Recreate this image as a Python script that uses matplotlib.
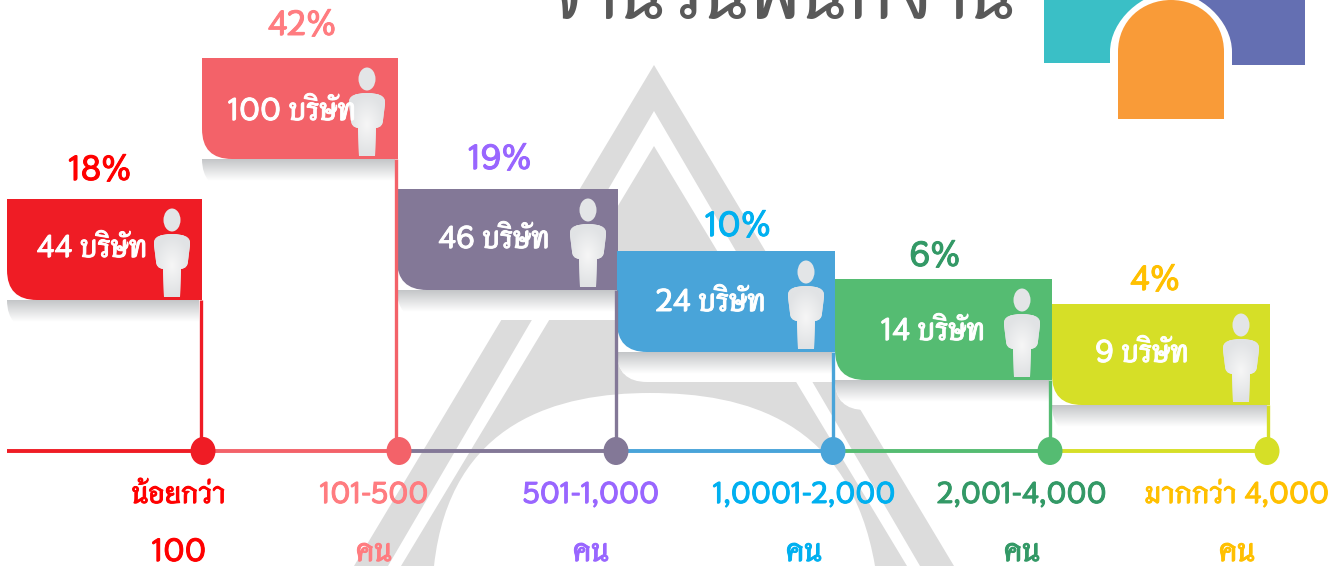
import numpy as np
import matplotlib
matplotlib.use('Agg')
import matplotlib.pyplot as plt
import matplotlib.patheffects as pe
from matplotlib.path import Path
from matplotlib.patches import PathPatch, Ellipse, Rectangle
from matplotlib.colors import LinearSegmentedColormap

plt.rcParams['font.family'] = ['Thasadith', 'Anuphan', 'DejaVu Sans']

## data
shares = ['18%', '42%', '19%', '10%', '6%', '4%']
companies = ['44 บริษัท', '100 บริษัท', '46 บริษัท', '24 บริษัท', '14 บริษัท', '9 บริษัท']
ranges = ['น้อยกว่า', '101-500', '501-1,000', '1,0001-2,000', '2,001-4,000', 'มากกว่า 4,000']
units = ['100', 'คน', 'คน', 'คน', 'คน', 'คน']
title = 'จำนวนพนักงาน'

## layout, in pixels of the picture
box_left = [7, 202, 397, 617, 835, 1052]
box_right = [202, 398, 618, 835, 1052, 1270]
box_top = [199, 58, 189, 251, 279, 304]
dot_x = [203, 399, 616, 833, 1050, 1267]
stem_x = [201, 396, 616, 833, 1050, 1268]
share_xy = [(100, 180), (302, 35), (500, 169), (738, 236), (935, 266), (1155, 290)]
company_xy = [(92, 257), (292, 120), (494, 248), (711, 311), (933, 340), (1142, 362)]
person_x = [172, 367, 588, 806, 1022, 1241]
label_x = [179, 374, 591, 804, 1022, 1237]

box_colors = ['#EF1C25', '#F36269', '#837897', '#49A4D9', '#55BC72', '#D6DF27']
text_colors = ['#FF0000', '#FF7C80', '#9966FF', '#00B0F0', '#339966', '#FFC000']
grey = '#DCDCDC'


def box_path(x0, x1, y0, y1, r):
    return Path([(x0, y0), (x1, y0), (x1, y1), (x0 + r, y1), (x0, y1), (x0, y1 - r), (x0, y0)],
                [Path.MOVETO, Path.LINETO, Path.LINETO, Path.LINETO, Path.CURVE3, Path.CURVE3, Path.LINETO])


def draw_watermark(ax):
    ax.fill([654, 354, 954], [65, 566, 566], color=grey, lw=0, zorder=1)
    ax.fill([654, 388, 920], [111, 566, 566], color='white', lw=0, zorder=1.1)
    ax.fill([654, 401, 907], [146, 566, 566], color=grey, lw=0, zorder=1.2)
    arch = Path([(434, 566), (450, 420), (560, 393), (650, 393), (745, 393), (850, 420), (875, 566)],
                [Path.MOVETO, Path.CURVE4, Path.CURVE4, Path.CURVE4, Path.CURVE4, Path.CURVE4, Path.CURVE4])
    ax.add_patch(PathPatch(arch, fc='white', ec='none', zorder=1.3))


def draw_logo(ax):
    ax.add_patch(Rectangle((1044, -1), 130, 64, fc='#3ABFC6', ec='none', zorder=2))
    ax.add_patch(Rectangle((1170, -1), 135, 66, fc='#646FB2', ec='none', zorder=2))
    for x0, x1, bottom, top, color, z in [(1110, 1232, 66, -8, 'white', 2.1), (1118, 1224, 119, 0, '#F99B38', 2.2)]:
        mid = (x0 + x1) / 2
        arch = Path([(x0, bottom), (x0, 52), (x0, 20), (mid - 28, top), (mid, top),
                     (mid + 28, top), (x1, 20), (x1, 52), (x1, bottom), (x0, bottom)],
                    [Path.MOVETO, Path.LINETO, Path.CURVE4, Path.CURVE4, Path.CURVE4,
                     Path.CURVE4, Path.CURVE4, Path.CURVE4, Path.LINETO, Path.CLOSEPOLY])
        ax.add_patch(PathPatch(arch, fc=color, ec='none', zorder=z))


def draw_shadow(ax, x0, x1, y1):
    white_part = box_path(x0, x1, y1 - 30, y1 + 30, 30)
    ax.add_patch(PathPatch(white_part, fc='white', ec='none', zorder=3))
    shade = LinearSegmentedColormap.from_list('shade', ['#C4C6C8', '#FFFFFF'])
    im = ax.imshow(np.linspace(0, 1, 40)[:, None], cmap=shade, extent=(x0, x1, y1 + 22, y1),
                   aspect='auto', zorder=3.1)
    im.set_clip_path(PathPatch(white_part, transform=ax.transData))


def draw_person(ax, cx, top):
    ax.add_patch(Ellipse((cx, top + 11), 17, 23, fc='#E3E5E7', ec='none', zorder=6))
    c3 = Path.CURVE3
    verts = [(cx - 9, top + 60), (cx - 8, top + 88), (cx + 8, top + 88), (cx + 9, top + 60),
             (cx + 16, top + 59), (cx + 16, top + 52), (cx + 18, top + 36), (cx + 18, top + 34),
             (cx + 18, top + 25), (cx, top + 25), (cx - 18, top + 25), (cx - 18, top + 34),
             (cx - 18, top + 36), (cx - 16, top + 52), (cx - 16, top + 59), (cx - 9, top + 60)]
    codes = [Path.MOVETO, Path.LINETO, Path.LINETO, Path.LINETO,
             c3, c3, Path.LINETO, Path.LINETO,
             c3, c3, c3, c3,
             Path.LINETO, Path.LINETO, c3, c3]
    body = Path(verts, codes)
    ax.add_patch(PathPatch(body, fc='#E3E5E7', ec='none', zorder=6))
    yy, xx = np.mgrid[-1:1:60j, -1:1:60j]
    glow = LinearSegmentedColormap.from_list('glow', ['#F6F6F6', '#E1E3E5'])
    im = ax.imshow(np.clip(np.hypot(xx, yy * 1.1), 0, 1), cmap=glow, extent=(cx - 19, cx + 19, top + 89, top + 24),
                   aspect='auto', zorder=6.1)
    im.set_clip_path(PathPatch(body, transform=ax.transData))


def label(ax, x, y, s, color, size):
    t = ax.text(x, y, s, color=color, fontsize=size, fontweight='bold', ha='center', va='baseline', zorder=9)
    t.set_path_effects([pe.withStroke(linewidth=0.7, foreground=color)])


fig = plt.figure(figsize=(13.43, 5.66), dpi=100)
ax = fig.add_axes([0, 0, 1, 1])

draw_watermark(ax)
draw_logo(ax)
ax.text(777, 18, title, color='#595959', fontsize=59, fontweight='bold', ha='center', va='baseline', zorder=2)

line_start = [7] + dot_x[:-1]
for i in range(6):
    ax.plot([line_start[i], dot_x[i]], [451, 451], color=box_colors[i], lw=2.8, solid_capstyle='butt', zorder=7)

for i in range(6):
    bottom = box_top[i] + 101
    draw_shadow(ax, box_left[i], box_right[i] - 3, bottom)
    ax.add_patch(PathPatch(box_path(box_left[i], box_right[i], box_top[i], bottom, 30),
                           fc=box_colors[i], ec='none', zorder=5))
    ax.plot([stem_x[i], stem_x[i]], [bottom, 451], color=box_colors[i], lw=2.4, solid_capstyle='butt', zorder=7)
    ax.add_patch(Ellipse((dot_x[i], 451), 25, 28, fc=box_colors[i], ec='none', zorder=8))
    draw_person(ax, person_x[i], box_top[i] + 10)
    label(ax, *company_xy[i], companies[i], 'white', 22.5)
    label(ax, *share_xy[i], shares[i], text_colors[i], 25)
    label(ax, label_x[i], 503, ranges[i], text_colors[i], 21.5)
    label(ax, label_x[i], 561, units[i], text_colors[i], 23)

ax.set_xlim(0, 1343)
ax.set_ylim(566, 0)
ax.axis('off')
fig.savefig('out.png', dpi=100)
